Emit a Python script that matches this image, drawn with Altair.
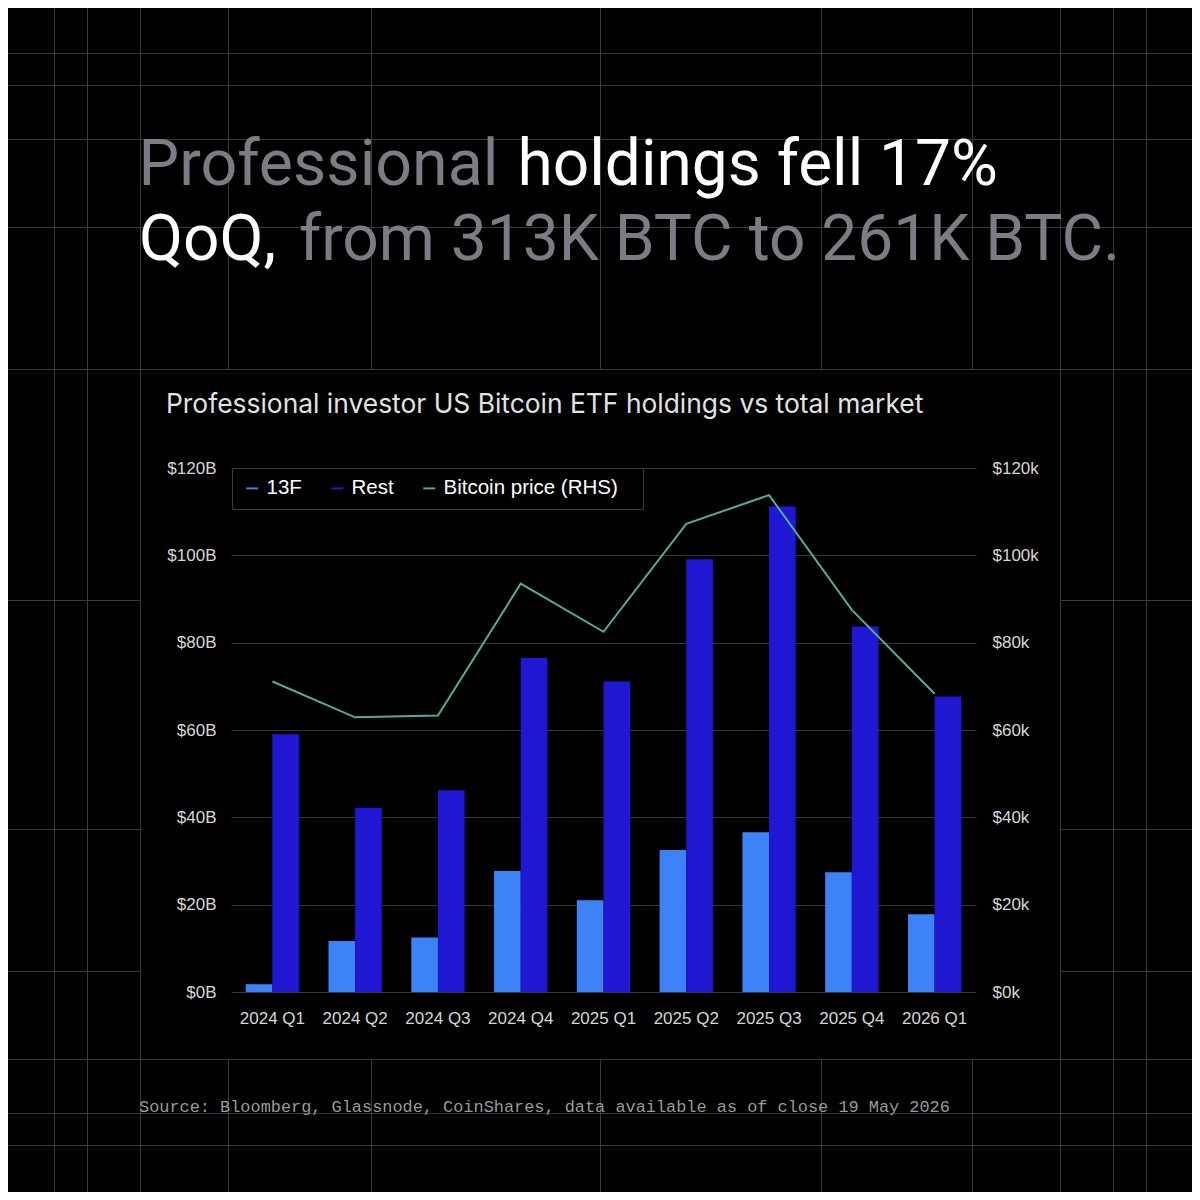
import altair as alt
import pandas as pd

# ---------------- data ----------------
quarters = ["2024 Q1", "2024 Q2", "2024 Q3", "2024 Q4", "2025 Q1",
            "2025 Q2", "2025 Q3", "2025 Q4", "2026 Q1"]
holdings_13f = [1.8, 11.7, 12.5, 27.7, 21.0, 32.5, 36.6, 27.4, 17.8]      # $B
holdings_rest = [59.0, 42.2, 46.2, 76.5, 71.1, 99.1, 111.2, 83.7, 67.7]   # $B
btc_price_k = [71.1, 62.9, 63.3, 93.5, 82.5, 107.2, 113.8, 87.5, 68.3]    # $k
series_names = ["13F", "Rest", "Bitcoin price (RHS)"]
series_colors = ["#3d83f7", "#1f17d2", "#50ac9f"]
y_ticks = [0, 20, 40, 60, 80, 100, 120]

bar_df = pd.DataFrame({
    "quarter": quarters * 2,
    "series": ["13F"] * len(quarters) + ["Rest"] * len(quarters),
    "value": holdings_13f + holdings_rest,
})
price_df = pd.DataFrame({
    "quarter": quarters,
    "series": ["Bitcoin price (RHS)"] * len(quarters),
    "price": btc_price_k,
})
dummy = pd.DataFrame({"d": [0]})

# ---------------- layout (relative to plot origin) ----------------
W, H = 745, 524
OX, OY = 223, 460          # plot origin inside the svg (page = svg + 8)
TOTAL = 1184
BG_LINE = "#393939"

PAD_TAIL = "\u2800"   # invisible blank glyph to widen the legend frame
color_scale = alt.Scale(domain=series_names, range=series_colors)
legend = alt.Legend(
    title=None, orient="none", legendX=1, legendY=0, direction="horizontal",
    fillColor="#000000", strokeColor="#3c3c3c", padding=10,
    labelColor="#ffffff", labelFont="Liberation Sans", labelFontSize=20.5,
    labelLimit=400,
    labelExpr="datum.label == 'Bitcoin price (RHS)' ? datum.label + '" + PAD_TAIL + "' : datum.label",
    symbolType="M-1,-0.16L1,-0.16L1,0.16L-1,0.16Z", symbolSize=144,
    symbolStrokeWidth=0, labelOffset=4, columnPadding=25,
)

layers = []


def px(v):
    return v + 0.5


# decorative background grid (page coordinates converted to plot coords)
pgx, pgy = 231, 468
panel = (140, 369, 1060, 1059)
v_full = [54, 87, 140, 1060, 1113, 1146]
v_split = [228, 371, 600, 821, 972]
h_full = [53, 85, 139, 227, 369, 1059, 1113, 1145]
h_split = [600, 829, 971]


def vrule(x, y1, y2):
    return alt.Chart(dummy).mark_rule(color=BG_LINE, strokeWidth=1).encode(
        x=alt.value(px(x - pgx)), y=alt.value(y1 - pgy), y2=alt.value(y2 - pgy))


def hrule(y, x1, x2):
    return alt.Chart(dummy).mark_rule(color=BG_LINE, strokeWidth=1).encode(
        y=alt.value(px(y - pgy)), x=alt.value(x1 - pgx), x2=alt.value(x2 - pgx))


for x in v_full:
    layers.append(vrule(x, 0, 1200))
for x in v_split:
    layers.append(vrule(x, 0, panel[1]))
    layers.append(vrule(x, panel[3], 1200))
for y in h_full:
    layers.append(hrule(y, 0, 1200))
for y in h_split:
    layers.append(hrule(y, 0, panel[0]))
    layers.append(hrule(y, panel[2], 1200))


def text_layer(txt, x, y, color, size, font):
    return alt.Chart(dummy).mark_text(
        text=txt, align="left", baseline="alphabetic", font=font,
        fontSize=size, color=color, fontWeight=400,
    ).encode(x=alt.value(x - pgx), y=alt.value(y - pgy))


GRAY = "#7c7c84"
layers.append(text_layer("Professional", 138.5, 185, GRAY, 64.5, "Roboto"))
layers.append(text_layer("holdings fell 17%", 517.5, 185, "#ffffff", 64, "Roboto"))
layers.append(text_layer("QoQ,", 139, 260, "#ffffff", 64, "Roboto"))
layers.append(text_layer("from 313K BTC to 261K BTC.", 299, 260, GRAY, 64, "Roboto"))
layers.append(text_layer("Professional investor US Bitcoin ETF holdings vs total market",
                         166, 413, "#e2e2e2", 26.4, "Inter"))
layers.append(text_layer("Source: Bloomberg, Glassnode, CoinShares, data available as of close 19 May 2026",
                         139, 1112, "#9a9a9a", 16.9, "Liberation Mono"))

AX_LABEL = "#d6d6d6"
bars = alt.Chart(bar_df).mark_bar().encode(
    x=alt.X("quarter:N", sort=quarters,
            scale=alt.Scale(paddingInner=0.356, paddingOuter=0.178),
            axis=alt.Axis(title=None, labelAngle=0, ticks=False, domain=False,
                          labelPadding=18, labelColor=AX_LABEL,
                          labelFont="Liberation Sans", labelFontSize=17)),
    xOffset=alt.XOffset("series:N", sort=["13F", "Rest"],
                        scale=alt.Scale(paddingInner=0, paddingOuter=0)),
    y=alt.Y("value:Q", scale=alt.Scale(domain=[0, 120], nice=False),
            axis=alt.Axis(title=None, values=y_ticks,
                          labelExpr="'$' + datum.value + 'B'",
                          ticks=False, domain=False, grid=True,
                          gridColor="#363636", gridWidth=1,
                          labelPadding=15, labelColor=AX_LABEL,
                          labelFont="Liberation Sans", labelFontSize=17)),
    color=alt.Color("series:N", scale=color_scale, legend=legend),
)

line = alt.Chart(price_df).mark_line(strokeWidth=2).encode(
    x=alt.X("quarter:N", sort=quarters),
    y=alt.Y("price:Q", scale=alt.Scale(domain=[0, 120], nice=False),
            axis=alt.Axis(title=None, orient="right", values=y_ticks,
                          labelExpr="'$' + datum.value + 'k'",
                          ticks=False, domain=False, grid=False,
                          labelPadding=16, labelColor=AX_LABEL,
                          labelFont="Liberation Sans", labelFontSize=17)),
    color=alt.Color("series:N", scale=color_scale, legend=legend),
)

layers += [bars, line]

chart = alt.layer(*layers).resolve_scale(y="independent").properties(
    width=W, height=H,
    padding={"left": OX, "top": OY, "right": TOTAL - OX - W, "bottom": TOTAL - OY - H},
    autosize=alt.AutoSizeParams(type="none"),
    background="#000000",
).configure_view(stroke=None)

chart.save("out.html", embed_options={"renderer": "svg", "actions": False})
